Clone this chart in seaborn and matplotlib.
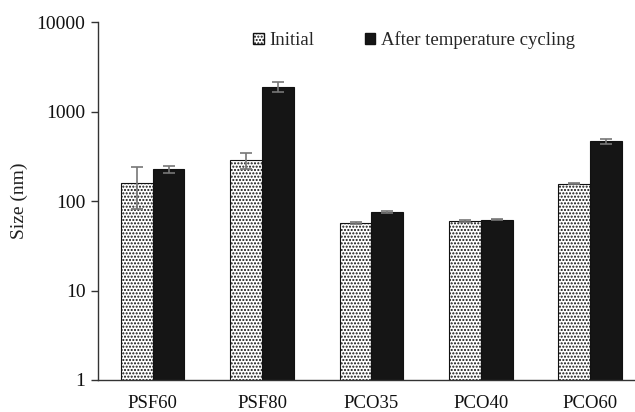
import numpy as np
import pandas as pd
import matplotlib
matplotlib.use('Agg')
import matplotlib.pyplot as plt
import seaborn as sns
from matplotlib.patches import Patch

# dados
amostras = ['PSF60', 'PSF80', 'PCO35', 'PCO40', 'PCO60']
tamanho_inicial = [160, 285, 57, 60, 155]
erro_inicial = [78, 55, 1, 1, 2]
tamanho_ciclagem = [225, 1890, 76, 62, 468]
erro_ciclagem = [22, 250, 2, 1, 30]
series = ['Initial', 'After temperature cycling']

sns.set_theme(style='white')
plt.rcParams['font.family'] = ['Liberation Serif', 'DejaVu Serif']
plt.rcParams['hatch.color'] = '#222222'
plt.rcParams['hatch.linewidth'] = 1.0

df = pd.DataFrame({
    'Amostra': amostras * 2,
    'Tamanho': tamanho_inicial + tamanho_ciclagem,
    'Serie': [series[0]] * len(amostras) + [series[1]] * len(amostras),
})

fig = plt.figure(figsize=(6.35, 4.12), dpi=100)
ax = fig.add_axes([98 / 635, 32 / 412, 1 - 98 / 635, (380 - 22) / 412])

sns.barplot(data=df, x='Amostra', y='Tamanho', hue='Serie', hue_order=series,
            palette=['white', '#151515'], width=0.58, gap=0, errorbar=None,
            edgecolor='#111111', linewidth=0.8, ax=ax, legend=False)

n = len(amostras)
for i, barra in enumerate(ax.patches[:2 * n]):
    if i < n:
        barra.set_hatch('.....')
        erro = erro_inicial[i]
        valor = tamanho_inicial[i]
    else:
        erro = erro_ciclagem[i - n]
        valor = tamanho_ciclagem[i - n]
    xc = barra.get_x() + barra.get_width() / 2
    ax.errorbar(xc, valor, yerr=erro, color='#777777', capsize=4,
                elinewidth=1.2, capthick=1.2, zorder=5)

ax.set_yscale('log')
ax.set_ylim(1, 10000)
ax.set_yticks([1, 10, 100, 1000, 10000])
ax.set_yticklabels(['1', '10', '100', '1000', '10000'])
ax.minorticks_off()
ax.set_xlim(-0.5, 4.41)
ax.set_xlabel('')
ax.set_ylabel('Size (nm)', fontsize=14, color='#222222', labelpad=6)

for lado in ['top', 'right']:
    ax.spines[lado].set_visible(False)
for lado in ['left', 'bottom']:
    ax.spines[lado].set_color('#333333')
    ax.spines[lado].set_linewidth(1.0)

ax.tick_params(axis='y', which='major', left=True, length=5, width=1,
               color='#333333', labelsize=14, labelcolor='#111111', pad=4)
ax.tick_params(axis='x', bottom=False, labelsize=13.5, labelcolor='#111111', pad=4.5)

legenda = [Patch(facecolor='white', edgecolor='#111111', hatch='.....', label=series[0]),
           Patch(facecolor='#151515', edgecolor='#111111', label=series[1])]
ax.legend(handles=legenda, loc='upper left', bbox_to_anchor=(0.289, 0.975), ncol=2,
          frameon=False, fontsize=13.5, handlelength=0.55, handleheight=0.55,
          handletextpad=0.3, columnspacing=2.7, borderpad=0, borderaxespad=0)

fig.savefig('out.png', dpi=100)
